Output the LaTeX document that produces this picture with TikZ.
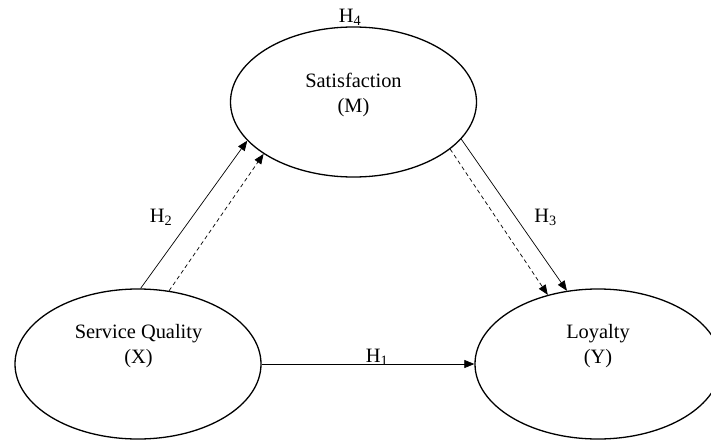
\documentclass[tikz,border=0pt]{standalone}
\usepackage{fontspec}
\setmainfont{Liberation Serif}
\usetikzlibrary{calc,positioning,arrows.meta,shapes}

\begin{document}
\begin{tikzpicture}[x=1pt,y=-1pt]
\tikzstyle{every node} = [inner sep = 0pt, font = \fontsize{20.4}{25}\selectfont];
\tikzstyle{var} = [draw, ellipse, line width = 1.3pt, minimum width = 246pt, minimum height = 150pt];
\tikzstyle{effect} = [-{Triangle[length=10pt,width=8pt]}, line width = 0.7pt];
\tikzstyle{mediated} = [effect, dash pattern = on 4pt off 3pt];
\useasboundingbox (0,0) rectangle (711,441);
\node[var] (M) at (353.5,102) {};
\node[var] (X) at (138,364) {};
\node[var] (Y) at (598,364) {};
\node[align = center] (Mtext) at (353.5,95) {Satisfaction\\(M)};
\node[align = center] (Xtext) at (138.5,346) {Service Quality\\(X)};
\node[align = center] (Ytext) at (598,346) {Loyalty\\(Y)};
\node (H1) at (377,357) {H\textsubscript{1}};
\node (H2) at (161,217) {H\textsubscript{2}};
\node (H3) at (545.5,217) {H\textsubscript{3}};
\node (H4) at (350,17) {H\textsubscript{4}};
% direct effects
\draw[effect] (X.east) -- (Y.west);
\draw[effect] (X.88.5) -- (M.200.4);
\draw[effect] (M.341.8) -- (Y.113.3);
% mediated effect
\draw[mediated] (X.67.8) -- (M.210.6);
\draw[mediated] (M.334) -- (Y.126.7);
\end{tikzpicture}
\end{document}
